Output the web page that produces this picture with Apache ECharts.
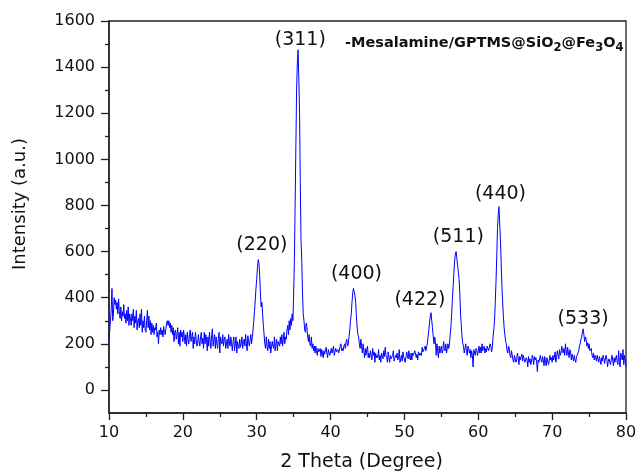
<!DOCTYPE html>
<html>
<head>
<meta charset="utf-8">
<script src="https://cdn.jsdelivr.net/npm/echarts@6/dist/echarts.min.js"></script>
<style>
html,body{margin:0;padding:0;background:#fff;}
#chart{width:636px;height:475px;}
</style>
</head>
<body>
<div id="chart"></div>
<script>
// 2-theta grid of the scan
const thetaStart = 10;
const thetaStep = 0.1;

const int10to20 = [220,260,300,350,440,300,330,400,370,390, 350,380,330,395,340,310,360,300,340,320, 370,310,330,290,345,300,360,280,330,310, 280,330,300,350,270,320,290,345,260,300, 310,270,330,280,350,250,300,270,320,260, 250,300,345,270,320,260,300,240,290,250, 280,240,270,260,290,230,250,200,260,240, 270,240,260,230,275,250,240,265,290,300, 280,300,270,290,250,280,240,270,210,250, 260,220,240,270,200,250,190,260,230,250];
const int20to30 = [210,260,230,200,240,190,250,220,200,240, 260,210,230,250,180,230,200,250,220,190, 200,240,210,190,230,250,200,225,180,250, 200,240,220,170,230,190,250,210,180,240, 265,190,220,240,180,230,200,180,220,250, 160,230,210,200,240,190,220,230,180,200, 220,180,240,210,190,230,200,170,210,230, 170,200,230,160,210,190,180,220,185,200, 230,180,210,220,190,240,200,170,235,210, 190,215,240,200,230,260,300,340,390,440];
const int30to40 = [480,530,565,550,500,420,360,380,330,280, 240,200,180,230,190,170,220,180,210,160, 160,210,190,180,230,170,200,220,170,210, 215,190,230,200,240,190,220,250,200,230, 220,260,280,240,300,260,310,280,330,300, 420,560,800,1050,1300,1420,1475,1350,1200,900, 650,560,420,330,300,260,250,290,270,230, 210,240,200,190,230,180,200,170,190,160, 190,170,150,180,165,160,180,145,175,160, 140,170,155,150,185,160,140,175,160,150];
const int40to50 = [150,180,160,175,190,150,155,180,165,170, 175,160,165,190,200,170,180,170,190,200, 180,210,220,190,200,230,260,300,330,380, 420,440,445,410,380,320,270,240,230,200, 180,220,190,160,200,170,140,180,150,175, 190,140,160,140,170,150,130,180,150,165, 120,160,140,150,140,175,130,150,120,160, 150,135,170,145,185,150,140,120,165,140, 120,150,135,140,150,170,125,130,150,140, 160,130,140,175,120,135,150,125,165,145];
const int50to60 = [150,120,140,165,150,135,170,140,130,160, 130,160,150,145,170,175,140,155,130,165, 170,150,160,150,185,165,160,180,190,170, 175,200,230,260,290,320,335,300,270,230, 200,230,210,150,200,170,140,190,160,175, 190,160,170,210,180,170,200,160,180,200, 180,200,240,280,330,400,450,510,560,590, 600,570,540,510,480,420,330,280,230,200, 190,160,180,200,170,150,190,180,160,175, 140,170,150,100,175,160,150,180,170,150];
const int60to70 = [170,190,160,185,160,200,170,180,190,160, 180,165,190,195,170,175,200,190,165,185, 230,260,300,380,470,580,700,760,795,720, 650,550,450,380,320,270,240,210,200,170, 160,190,180,150,140,170,165,130,120,150, 150,120,130,160,140,110,145,130,125,155, 125,150,155,120,115,140,130,100,145,120, 135,110,120,150,140,110,145,130,140,120, 80,130,120,115,150,130,120,145,130,105, 145,120,105,140,135,110,125,150,130,140];
const int70to80 = [120,150,130,140,165,120,140,170,150,135, 175,150,160,190,170,160,180,150,200,170, 150,185,160,140,175,165,130,155,150,125, 150,130,120,145,140,160,170,190,200,220, 230,250,265,240,210,230,220,190,205,180, 200,170,165,180,150,140,160,130,150,140, 125,150,135,120,145,130,110,140,125,150, 140,115,120,150,135,100,125,135,140,110, 115,150,130,105,140,120,135,150,120,110, 170,120,100,160,140,130,175,110,150,130, 100];

// Peak (hkl) labels and where their text sits
const peakNames = ['(220)','(311)','(400)','(422)','(511)','(440)','(533)'];
const peakTextTheta = [30.7, 35.9, 43.5, 52.1, 57.3, 63.0, 74.2];
const peakTextIntensity = [629, 1519, 503, 391, 664, 851, 308];

// Axis ticks
const xMin = 10, xMax = 80, xInterval = 10;
const yMin = -100, yMax = 1600;
const yMajorTicks = [0,200,400,600,800,1000,1200,1400,1600];
const yMinorTicks = [100,300,500,700,900,1100,1300,1500];

const intensity = [].concat(int10to20, int20to30, int30to40, int40to50, int50to60, int60to70, int70to80);
const pattern = intensity.map((v, i) => [+(thetaStart + i * thetaStep).toFixed(2), v]);
const peakText = peakNames.map((n, i) => ({ value: [peakTextTheta[i], peakTextIntensity[i]], name: n }));

const FONT = 'DejaVu Sans';
const chart = echarts.init(document.getElementById('chart'), null, { renderer: 'canvas' });
chart.setOption({
  backgroundColor: '#ffffff',
  animation: false,
  grid: { left: 109, right: 10, top: 21, bottom: 62, containLabel: false, outerBoundsMode: 'none', show: true, borderColor: '#222', borderWidth: 1.3, backgroundColor: 'transparent' },
  xAxis: {
    type: 'value', min: xMin, max: xMax, interval: xInterval,
    name: '2 Theta (Degree)', nameLocation: 'middle', nameGap: 40,
    nameTextStyle: { fontFamily: FONT, fontSize: 19, color: '#111', padding: [0, 12, 0, 0] },
    axisLine: { show: true, onZero: false, lineStyle: { color: '#222', width: 1.5 } },
    axisTick: { show: true, length: 7, lineStyle: { color: '#222', width: 1.3 } },
    minorTick: { show: true, splitNumber: 2, length: 4, lineStyle: { color: '#222', width: 1.3 } },
    axisLabel: { fontFamily: FONT, fontSize: 16, color: '#111', margin: 12 },
    splitLine: { show: false }
  },
  yAxis: [{
    type: 'value', min: yMin, max: yMax,
    name: 'Intensity (a.u.)', nameLocation: 'middle', nameGap: 80, nameRotate: 90,
    nameTextStyle: { fontFamily: FONT, fontSize: 18, color: '#111', padding: [0, 0, 0, 26] },
    axisLine: { show: true, onZero: false, lineStyle: { color: '#222', width: 1.5 } },
    axisTick: { show: true, length: 8, customValues: yMajorTicks, lineStyle: { color: '#222', width: 1.3 } },
    axisLabel: { fontFamily: FONT, fontSize: 16, color: '#111', margin: 14, customValues: yMajorTicks, formatter: v => String(v) },
    splitLine: { show: false }
  }, {
    type: 'value', min: yMin, max: yMax, position: 'left',
    axisLine: { show: false },
    axisTick: { show: true, length: 4, customValues: yMinorTicks, lineStyle: { color: '#222', width: 1.3 } },
    axisLabel: { show: false },
    splitLine: { show: false }
  }],
  series: [{
    type: 'line', data: pattern, showSymbol: false, symbol: 'none',
    lineStyle: { color: '#0000ff', width: 1 }, z: 3
  }, {
    type: 'scatter', data: peakText, symbolSize: 0, silent: true,
    itemStyle: { opacity: 1, color: 'transparent' },
    label: { show: true, position: 'inside', formatter: p => p.name, fontFamily: FONT, fontSize: 19, color: '#111', opacity: 1 },
    z: 4
  }],
  graphic: [{
    type: 'text', left: 345, top: 36,
    style: {
      text: '{b|-Mesalamine/GPTMS@SiO}{s|2}{b|@Fe}{s|3}{b|O}{s|4}',
      rich: {
        b: { fontFamily: FONT, fontWeight: 'bold', fontSize: 14.5, lineHeight: 22, verticalAlign: 'middle', fill: '#111' },
        s: { fontFamily: FONT, fontWeight: 'bold', fontSize: 11.5, lineHeight: 22, verticalAlign: 'bottom', fill: '#111' }
      }
    }
  }]
});
</script>
</body>
</html>
